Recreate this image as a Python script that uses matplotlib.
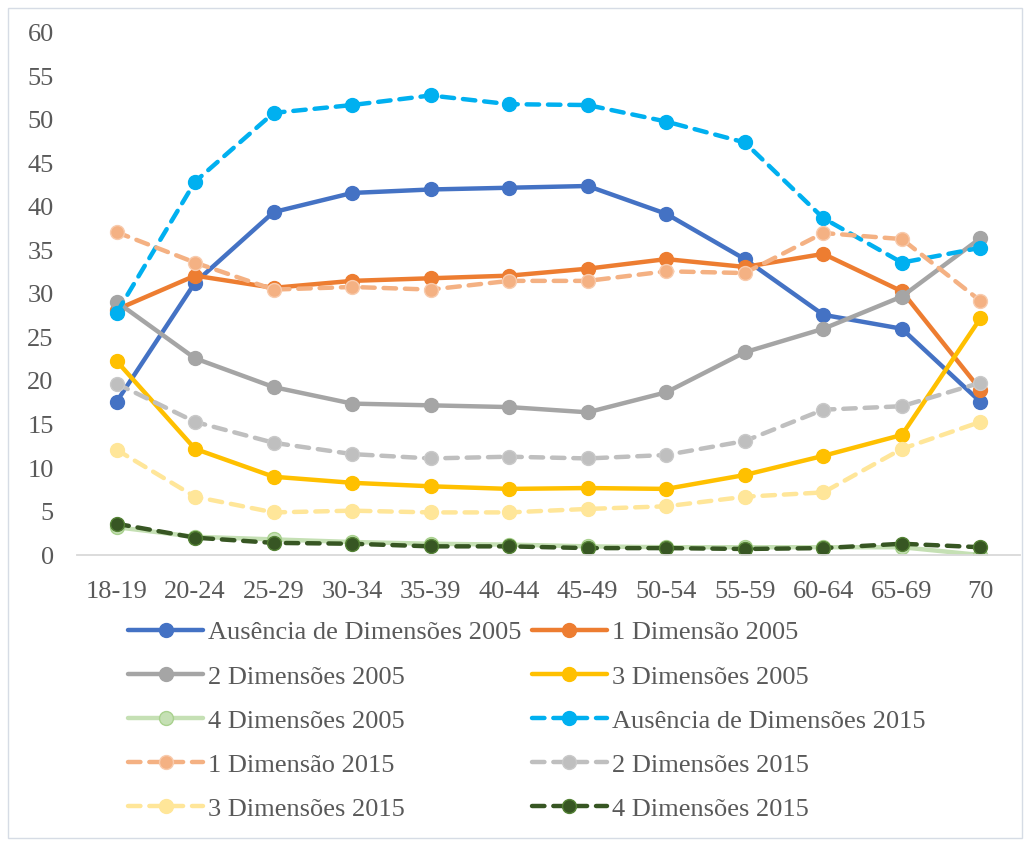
import matplotlib
matplotlib.use("Agg")
import matplotlib.pyplot as plt
import matplotlib.patches as mpatches

plt.rcParams["font.family"] = ["Liberation Serif", "DejaVu Serif"]

# age groups
ages = ["18-19", "20-24", "25-29", "30-34", "35-39", "40-44",
        "45-49", "50-54", "55-59", "60-64", "65-69", "70"]

# 2005 series
aus_2005 = [17.6, 31.3, 39.4, 41.6, 42.0, 42.2, 42.4, 39.2, 34.0, 27.6, 26.0, 17.6]
dim1_2005 = [28.2, 32.1, 30.7, 31.5, 31.8, 32.1, 32.9, 34.0, 33.1, 34.6, 30.3, 19.0]
dim2_2005 = [29.1, 22.6, 19.3, 17.4, 17.2, 17.0, 16.4, 18.7, 23.3, 26.0, 29.7, 36.4]
dim3_2005 = [22.3, 12.2, 9.0, 8.3, 7.9, 7.6, 7.7, 7.6, 9.2, 11.4, 13.8, 27.2]
dim4_2005 = [3.2, 2.1, 1.8, 1.5, 1.3, 1.2, 1.0, 0.9, 0.9, 0.9, 0.9, 0.0]

# 2015 series
aus_2015 = [27.8, 42.9, 50.8, 51.7, 52.8, 51.8, 51.7, 49.8, 47.4, 38.7, 33.6, 35.3]
dim1_2015 = [37.1, 33.6, 30.5, 30.8, 30.5, 31.5, 31.5, 32.6, 32.4, 37.0, 36.3, 29.2]
dim2_2015 = [19.7, 15.3, 12.9, 11.6, 11.1, 11.3, 11.1, 11.5, 13.1, 16.7, 17.1, 19.8]
dim3_2015 = [12.1, 6.7, 4.9, 5.1, 4.9, 4.9, 5.3, 5.6, 6.7, 7.2, 12.2, 15.3]
dim4_2015 = [3.6, 2.0, 1.4, 1.3, 1.0, 1.0, 0.8, 0.8, 0.7, 0.8, 1.3, 0.9]

# (label, values, line colour, marker edge colour, dashed)
series = [
    ("Ausência de Dimensões 2005", aus_2005, "#4472C4", "#4472C4", False),
    ("1 Dimensão 2005", dim1_2005, "#ED7D31", "#ED7D31", False),
    ("2 Dimensões 2005", dim2_2005, "#A5A5A5", "#A5A5A5", False),
    ("3 Dimensões 2005", dim3_2005, "#FFC000", "#FFC000", False),
    ("4 Dimensões 2005", dim4_2005, "#C5E0B4", "#A9D18E", False),
    ("Ausência de Dimensões 2015", aus_2015, "#00B0F0", "#00B0F0", True),
    ("1 Dimensão 2015", dim1_2015, "#F4B183", "#F8CBAD", True),
    ("2 Dimensões 2015", dim2_2015, "#BFBFBF", "#C9C9C9", True),
    ("3 Dimensões 2015", dim3_2015, "#FFE699", "#FFE699", True),
    ("4 Dimensões 2015", dim4_2015, "#375623", "#548235", True),
]

TXT = "#595959"
FS = 19

fig = plt.figure(figsize=(10.30, 8.41), dpi=100)
ax = fig.add_axes([0.075, 0.340, 0.915, 0.621])

x = list(range(len(ages)))
handles = []
for label, vals, col, edge, dashed in series:
    ln, = ax.plot(x, vals, color=col, lw=3.2, marker="o", markersize=10,
                  markerfacecolor=col, markeredgecolor=edge,
                  markeredgewidth=1.0, label=label,
                  linestyle="--" if dashed else "-",
                  solid_capstyle="round", dash_capstyle="round")
    if dashed:
        ln.set_dashes([2.8, 2.0])
    handles.append(ln)

ax.set_xlim(-0.5, len(ages) - 0.5)
ax.set_ylim(0, 60)
ax.set_yticks(range(0, 61, 5))
ax.set_xticks(x)
ax.set_xticklabels(ages)
ax.tick_params(length=0, labelsize=FS, labelcolor=TXT)
ax.tick_params(axis="y", pad=17)
ax.tick_params(axis="x", pad=19)
for s in ["top", "right", "left"]:
    ax.spines[s].set_visible(False)
ax.spines["bottom"].set_color("#D9D9D9")
ax.spines["bottom"].set_linewidth(1.3)

# legend reads row by row, matplotlib fills column by column
order = [0, 2, 4, 6, 8, 1, 3, 5, 7, 9]
fig.legend([handles[i] for i in order], [series[i][0] for i in order],
           loc="upper left", bbox_to_anchor=(128 / 1030, 1 - 621 / 841),
           ncol=2, frameon=False, fontsize=FS, labelcolor=TXT,
           handlelength=2.85, handletextpad=0.2, columnspacing=0.38,
           labelspacing=0.78, borderpad=0, borderaxespad=0)

# thin chart-area border
fig.patches.append(mpatches.Rectangle((8 / 1030, 3 / 841), 1014 / 1030, 830 / 841,
                                      transform=fig.transFigure, fill=False,
                                      edgecolor="#D6DCE5", lw=1.0))

fig.savefig("out.png", dpi=100)
